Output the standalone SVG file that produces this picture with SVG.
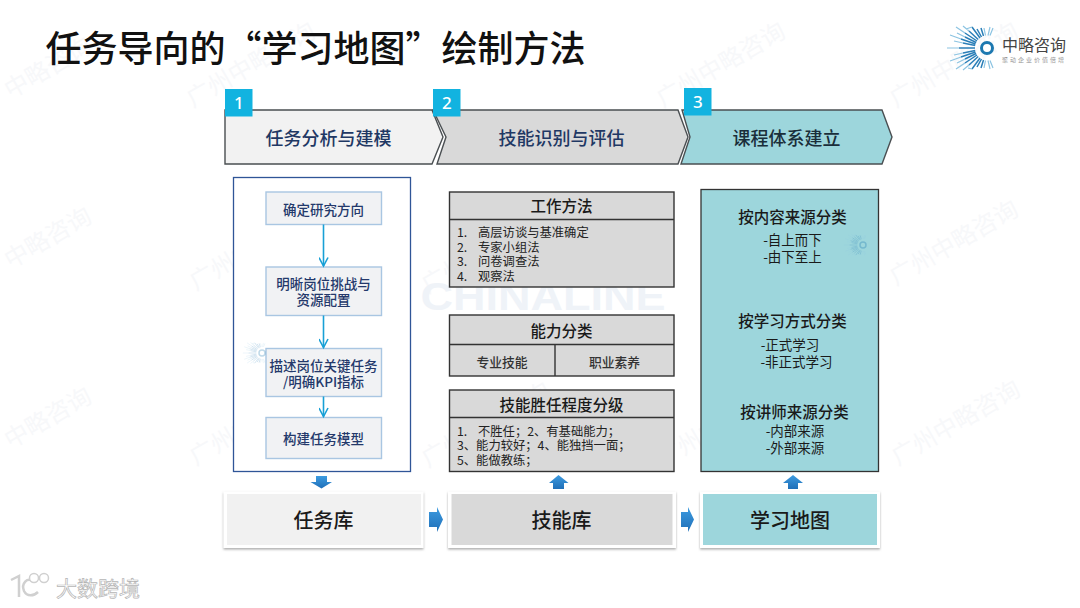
<svg xmlns="http://www.w3.org/2000/svg" width="1080" height="608" viewBox="0 0 1080 608">
<style>
text{font-family:"Noto Sans CJK SC","Noto Sans",sans-serif;text-anchor:middle}
.wm{font-size:24px;fill:#f7f8fa}
.chev{stroke:#4a4f52;stroke-width:1.4}
.badge{fill:#12b3e0}
.bt{font-family:"Noto Sans","Noto Sans CJK SC",sans-serif;font-size:17px;fill:#fff;font-weight:500}
.ct{font-size:18px;font-weight:500}
.ib{fill:#f1f2f4;stroke:#a9c6e2;stroke-width:1.4}
.it{font-size:13.5px;font-weight:500;fill:#24396b}
.mb{fill:#d9d9d9;stroke:#333;stroke-width:1.4}
.mh{font-size:15.5px;font-weight:500;fill:#1a1a1a}
.ml{font-size:12.3px;fill:#222;text-anchor:start}
.ms{font-size:12.8px;font-weight:500;fill:#333}
.rh{font-size:15.5px;font-weight:500;fill:#1a1a1a}
.rs{font-size:13.5px;fill:#1a1a1a}
.card{fill:#fff;filter:url(#sh)}
.ct2{font-size:20px;font-weight:500;fill:#1a1a1a}
.flow{fill:none;stroke:#18a0d6;stroke-width:1.6}
</style>
<defs>
<filter id="sh" x="-5%" y="-10%" width="110%" height="125%"><feDropShadow dx="0" dy="1.5" stdDeviation="1.3" flood-color="#888" flood-opacity=".7"/></filter>
<marker id="ah" markerWidth="12" markerHeight="10" refX="9.5" refY="5" orient="auto" markerUnits="userSpaceOnUse"><path d="M1 .5L9.5 5L1 9.5" fill="none" stroke="#18a0d6" stroke-width="1.6"/></marker>
<linearGradient id="bl" x1="0" y1="0" x2="0" y2="1"><stop offset="0" stop-color="#3d9be0"/><stop offset="1" stop-color="#1f6fb8"/></linearGradient>
<g id="rays" fill="none">
<path stroke="#2b7fb8" stroke-width="1.500" d="M-12 0H-28M-11.800 -2.400L-24 -5M-11.500 -4L-26 -9M-10.800 -5.500L-22 -11M-10 -7L-22 -15M-8.800 -8.500L-18 -17M-7 -10L-15 -21M-5.500 -11L-10 -19M-3.500 -12L-6 -20M-11.800 2.400L-24 5M-11.500 4L-26 9M-10.800 5.500L-22 11M-10 7L-22 15M-8.800 8.500L-18 17M-7 10L-15 21M-5.500 11L-10 19M-3.500 12L-6 20"/>
<path stroke="#8cc4e2" stroke-width="1.200" d="M-28 0H-40M-24 -5L-33 -7M-26 -9L-37 -13M-22 -11L-30 -15M-22 -15L-31 -21M-18 -17L-24 -22M-15 -21L-21 -19M-1.500 -12.500L-3 -20M1 -12.500L3 -21M3 -12.500L6 -20M-24 5L-33 7M-26 9L-37 13M-22 11L-30 15M-22 15L-31 21M-18 17L-24 22M-15 21L-19 20M-1.500 12.500L-3 20M1 12.500L3 21M3 12.500L6 20"/>
</g>
</defs>
<rect width="1080" height="608" fill="#fff"/>
<g id="watermarks">
<text class="wm" transform="translate(52,75) rotate(-30)">中略咨询</text>
<text class="wm" transform="translate(255,72) rotate(-30)">广州中略咨询</text>
<text class="wm" transform="translate(725,72) rotate(-30)">广州中略咨询</text>
<text class="wm" transform="translate(958,72) rotate(-30)">广州中略咨询</text>
<text class="wm" transform="translate(52,245) rotate(-30)">中略咨询</text>
<text class="wm" transform="translate(258,255) rotate(-30)">广州中略咨询</text>
<text class="wm" transform="translate(490,258) rotate(-30)">广州中略咨询</text>
<text class="wm" transform="translate(958,250) rotate(-30)">广州中略咨询</text>
<text class="wm" transform="translate(52,425) rotate(-30)">中略咨询</text>
<text class="wm" transform="translate(258,430) rotate(-30)">广州中略咨询</text>
<text class="wm" transform="translate(490,432) rotate(-30)">广州中略咨询</text>
<text class="wm" transform="translate(725,432) rotate(-30)">广州中略咨询</text>
<text class="wm" transform="translate(960,430) rotate(-30)">广州中略咨询</text>
<text x="543" y="310" textLength="245" lengthAdjust="spacingAndGlyphs" style="font-family:'Liberation Sans',sans-serif;font-size:38px;font-weight:700;fill:#eff3f8">CHINALINE</text>
</g>
<text id="title" x="315.500" y="62" style="font-size:36px;font-weight:500;fill:#111">任务导向的“学习地图”绘制方法</text>
<g id="logo">
<use href="#rays" x="987" y="48"/>
<circle cx="987" cy="48" r="5.500" fill="#fff" stroke="#1c78b0" stroke-width="3"/>
<text x="1034" y="51" style="font-size:16px;fill:#444">中略咨询</text>
<text x="1034" y="62" style="font-size:6px;letter-spacing:2px;fill:#999">聚动企业价值倍增</text>
</g>
<g id="step1">
<path class="chev" fill="#f2f2f2" d="M225 110H432L443 137L432 164H225Z"/>
<rect class="badge" x="225" y="89" width="27.500" height="27.500"/>
<text class="bt" x="238.800" y="109">1</text>
<text class="ct" x="328.500" y="145" fill="#1f3864">任务分析与建模</text>
</g>
<g id="step2">
<path class="chev" fill="#d9d9d9" d="M433 110H678L688 137L678 164H437L446 137Z"/>
<rect class="badge" x="433" y="89" width="27.500" height="27.500"/>
<text class="bt" x="446.800" y="109">2</text>
<text class="ct" x="561.500" y="145" fill="#1f3864">技能识别与评估</text>
</g>
<g id="step3">
<path class="chev" fill="#9dd6dc" d="M682 110H882L892 137L882 164H681L690 137Z"/>
<rect class="badge" x="684" y="88" width="27.500" height="27.500"/>
<text class="bt" x="697.800" y="108">3</text>
<text class="ct" x="786.500" y="145" fill="#1a2e3a">课程体系建立</text>
</g>
<g id="task-panel"><rect x="233.500" y="177.500" width="177" height="294" fill="#fff" stroke="#2f5597" stroke-width="1.300"/></g>
<g id="t1"><rect class="ib" x="266" y="192" width="115.500" height="32.500"/><text class="it" x="323.500" y="215">确定研究方向</text></g>
<g id="t2"><rect class="ib" x="266" y="267" width="115.500" height="48.500"/><text class="it" x="323.500" y="289">明晰岗位挑战与</text><text class="it" x="323.500" y="305">资源配置</text></g>
<g id="t3"><rect class="ib" x="266" y="348.500" width="115.500" height="48"/><text class="it" x="323.500" y="371">描述岗位关键任务</text><text class="it" x="323.500" y="387">/明确KPI指标</text></g>
<g id="t4"><rect class="ib" x="266" y="417.500" width="115.500" height="41"/><text class="it" x="323.500" y="444">构建任务模型</text></g>
<g id="wm-logo-left" opacity=".28">
<use href="#rays" transform="translate(262,353) scale(.48)"/>
<circle cx="262" cy="353" r="3" fill="none" stroke="#1c78b0" stroke-width="1.500"/>
</g>
<g id="connectors">
<path class="flow" marker-end="url(#ah)" d="M323.500 224.500V266"/>
<path class="flow" marker-end="url(#ah)" d="M323.500 315.500V347.500"/>
<path class="flow" marker-end="url(#ah)" d="M323.500 396.500V416.500"/>
<path fill="url(#bl)" d="M316 476H327V482H332L321.500 488.500L310.500 482H316Z"/>
<path fill="url(#bl)" d="M553 489H564V483H568.500L558.500 475L549 483H553Z"/>
<path fill="url(#bl)" d="M788 489H798V483H803L793 475L783 483H788Z"/>
<path fill="url(#bl)" d="M429 512H437V507L443 519.500L437 532V527H429Z"/>
<path fill="url(#bl)" d="M681 512H688V507L694 519.500L688 532V527H681Z"/>
</g>
<g id="method"><rect class="mb" x="449.500" y="192" width="224.500" height="95"/><path class="mb" d="M449.500 219.500H674"/>
<text class="mh" x="561.500" y="212">工作方法</text>
<text class="ml" x="457" y="237">1.</text><text class="ml" x="478" y="237">高层访谈与基准确定</text>
<text class="ml" x="457" y="252">2.</text><text class="ml" x="478" y="252">专家小组法</text>
<text class="ml" x="457" y="266">3.</text><text class="ml" x="478" y="266">问卷调查法</text>
<text class="ml" x="457" y="281">4.</text><text class="ml" x="478" y="281">观察法</text>
</g>
<g id="ability"><rect class="mb" x="449.500" y="315" width="224.500" height="61"/><path class="mb" d="M449.500 344.500H674M555 344.500V376"/>
<text class="mh" x="561.500" y="337">能力分类</text><text class="ms" x="502" y="367">专业技能</text><text class="ms" x="614.500" y="367">职业素养</text></g>
<g id="level"><rect class="mb" x="449.500" y="390" width="224.500" height="81.500"/><path class="mb" d="M449.500 417.500H674"/>
<text class="mh" x="561.500" y="411">技能胜任程度分级</text>
<text class="ml" x="457" y="436">1.</text><text class="ml" x="478" y="436">不胜任；2、有基础能力；</text>
<text class="ml" x="457" y="450">3、能力较好；4、能独挡一面；</text>
<text class="ml" x="457" y="465">5、能做教练；</text></g>
<g id="course"><rect x="701" y="189.500" width="177.500" height="282" fill="#9dd6dc" stroke="#333" stroke-width="1.300"/>
<text class="rh" x="792.500" y="223">按内容来源分类</text><text class="rs" x="792.500" y="245">-自上而下</text><text class="rs" x="792.500" y="262">-由下至上</text>
<text class="rh" x="792.500" y="327">按学习方式分类</text><text class="rs" x="790" y="350">-正式学习</text><text class="rs" x="796.500" y="367">-非正式学习</text>
<text class="rh" x="794.500" y="418">按讲师来源分类</text><text class="rs" x="795" y="436">-内部来源</text><text class="rs" x="795" y="453">-外部来源</text>
<g opacity=".3"><use href="#rays" transform="translate(863,245) scale(.48)"/><circle cx="863" cy="245" r="3" fill="none" stroke="#1c78b0" stroke-width="1.500"/></g>
</g>
<g id="lib1"><rect class="card" x="223.500" y="491.500" width="200" height="56.500"/><rect x="227" y="494" width="194" height="51" fill="#f1f1f1"/><text class="ct2" x="323.500" y="528">任务库</text></g>
<g id="lib2"><rect class="card" x="448" y="491.500" width="228" height="56.500"/><rect x="451.500" y="494" width="221" height="51" fill="#d9d9d9"/><text class="ct2" x="561.500" y="528">技能库</text></g>
<g id="lib3"><rect class="card" x="700" y="491.500" width="180" height="56.500"/><rect x="703" y="494" width="174" height="51" fill="#9dd6dc"/><text class="ct2" x="790" y="528">学习地图</text></g>
<g id="mark">
<path d="M11 580L19 576V597M34 582C27 576 21 584 24 591C27 597 34 596 38 592" fill="none" stroke="#d0d0d0" stroke-width="2.500"/>
<circle cx="34" cy="578" r="4.500" fill="#fff" stroke="#d0d0d0" stroke-width="1.500"/><circle cx="44" cy="578" r="4.500" fill="#fff" stroke="#d0d0d0" stroke-width="1.500"/>
<text x="98" y="596" style="font-size:21px;fill:#fff;stroke:#b5b5b5;stroke-width:.7px">大数跨境</text>
</g>
</svg>
